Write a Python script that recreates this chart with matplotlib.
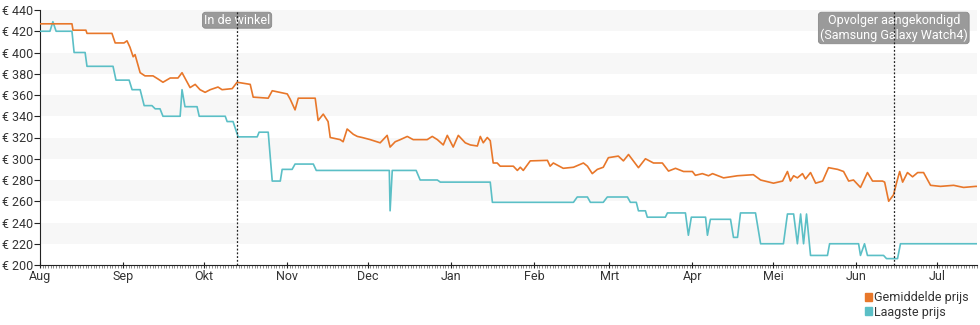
import pandas as pd
import matplotlib.pyplot as plt
import matplotlib.dates as mdates
from matplotlib.patches import Patch

plt.rcParams["font.family"] = ["Roboto", "DejaVu Sans"]

start = pd.Timestamp("2020-08-01")
end = pd.Timestamp("2021-07-16")

# gemiddelde prijs: dagen sinds 1 aug 2020 en prijs in euro
gem_dag = [0, 11.9, 12.3, 17.1, 17.5, 26.8, 28, 31.3, 32.4, 33.5, 34.7, 35.4, 37.3, 39.1,
           42.1, 44, 45.8, 48.5, 51.4, 52.9, 55.9, 57.8, 59.6, 61.5, 63.4, 66.3, 67.8,
           71.6, 73.4, 78.3, 79.4, 85, 86.5, 92.1, 93.2, 95, 96.2, 102.5, 103.6, 105.5,
           107.3, 108.1, 111.8, 112.9, 114.4, 116.7, 118.2, 120, 123, 126.7, 129.3,
           130.4, 132.3, 134.2, 136.8, 139, 144.2, 146.1, 148, 150.2, 151.7, 153.9,
           155.8, 158.4, 160.3, 162.9, 164, 165.1, 166.6, 167.7, 168.8, 170.3, 171.4,
           176.3, 177.8, 178.9, 180, 182.6, 189, 190, 191.2, 194.9, 198.7, 202.4, 203.9,
           205.7, 207.6, 209.8, 211.7, 215.4, 217.3, 219.2, 222.9, 225.5, 228.5, 231.8,
           234.1, 236.7, 239.7, 243, 244.1, 246.7, 249, 250.5, 254.6, 259.8, 265.7,
           268.4, 273.2, 276.6, 278.4, 279.5, 280.7, 282.1, 284, 285.1, 287, 288.9,
           291.5, 293.7, 297.1, 299.3, 301.2, 303, 305.6, 308.2, 310.1, 313.8, 314.6,
           316.1, 317.9, 319, 320.2, 321.3, 323.1, 325, 326.9, 329.1, 331.7, 335.4,
           340.3, 344, 348.5, 349.2]
gem_prijs = [427, 427, 421, 421, 418, 418, 409, 409, 411, 405, 396, 398, 381, 378,
             378, 375, 372, 376, 376, 381, 367, 370, 365, 362.5, 365, 367.5, 365,
             366, 372, 370, 358, 357, 364, 361, 356, 346, 357, 357, 336, 342,
             335, 320, 318, 316, 328, 323, 321, 320, 318, 315, 322,
             311, 316, 318, 321, 318, 318, 321, 318, 313, 322, 311,
             322, 315, 313, 312, 321, 315, 320, 317, 296, 296, 293,
             293, 289, 292, 289, 298, 298.5, 293, 296, 291, 292, 296, 293,
             286, 290, 292, 301, 302.5, 298, 304, 291.6, 300, 296, 296,
             288.4, 291, 288, 288, 284.4, 286, 284, 286, 282, 284, 285,
             280, 277, 279, 288, 279, 284, 282, 286, 281, 287, 277,
             279, 291.6, 290, 288, 279, 280, 273, 287, 279, 279, 278,
             260, 266, 277, 288, 278, 287, 283, 287, 287, 275, 274,
             275, 273, 274, 274]

# laagste prijs
laag_dag = [0, 3.7, 4.8, 6, 11.9, 12.7, 16.8, 17.5, 27.2, 28.3, 33.2, 34.3, 37.3, 38.8,
            41.7, 42.9, 44.7, 45.8, 52.2, 52.9, 54, 58.5, 59.3, 69, 69.7, 71.9, 73.8,
            80.9, 81.6, 85, 86.5, 89.5, 90.2, 93.9, 95, 101.8, 102.9, 130.1, 130.4,
            131.2, 140.1, 141.6, 148, 149.1, 167.7, 168.5, 198.7, 200.1, 203.9, 205,
            209.8, 211.3, 218.8, 219.9, 222.1, 222.9, 225.5, 226.2, 232.9, 233.7, 240.4,
            241.5, 242.6, 247.9, 248.6, 249.7, 257.2, 258.3, 259.8, 260.9, 266.5, 268.4,
            276.9, 278.4, 280.7, 282.1, 283.3, 284.4, 285.5, 287, 293.3, 294.1, 304.9,
            305.6, 307.1, 308.2, 314.2, 315.3, 319.4, 320.5, 349.2]
laag_prijs = [420, 420, 429, 420, 420, 400, 400, 387, 387, 374, 374, 365, 365, 350,
              350, 347, 347, 340, 340, 365, 349, 349, 340, 340, 335, 335, 320.6,
              320.6, 325, 325, 279, 279, 290, 290, 295, 295, 289, 289, 251,
              289, 289, 280, 280, 278, 278, 259, 259, 264, 264, 259,
              259, 264, 264, 259, 259, 251, 251, 245, 245, 249, 249,
              228, 245, 245, 228, 243, 243, 226, 226, 249, 249, 220,
              220, 248, 248, 220, 248, 220, 248, 209, 209, 220, 220,
              209, 220, 209, 209, 206, 206, 220, 220]

gebeurtenis_dag = [73.4, 318]
gebeurtenis_tekst = ["In de winkel", "Opvolger aangekondigd\n(Samsung Galaxy Watch4)"]

oranje = "#e8772a"
turkoois = "#5bbfc6"

gem_x = [start + pd.Timedelta(days=d) for d in gem_dag]
laag_x = [start + pd.Timedelta(days=d) for d in laag_dag]

fig = plt.figure(figsize=(9.8, 3.25), dpi=100)
ax = fig.add_axes([40 / 980, 60 / 325, 937 / 980, 255 / 325])

# grijze banden om de 40 euro
for lo in range(220, 440, 40):
    ax.axhspan(lo, lo + 20, color="#f7f7f7", lw=0, zorder=0)

ax.plot(laag_x, laag_prijs, color=turkoois, lw=1.2, zorder=3)
ax.plot(gem_x, gem_prijs, color=oranje, lw=1.2, zorder=3)

for d, t in zip(gebeurtenis_dag, gebeurtenis_tekst):
    x = start + pd.Timedelta(days=d)
    ax.axvline(x, color="#222222", lw=0.9, ls=(0, (1.5, 1.5)), zorder=5)
    ax.text(x, 436.5, t, ha="center", va="top", color="white", fontsize=9,
            linespacing=1.2, zorder=4,
            bbox=dict(boxstyle="round,pad=0.12,rounding_size=0.25",
                      fc="#9a9a9a", ec="#8a8a8a", lw=0.6))

ax.set_xlim(start, end)
ax.set_ylim(200, 440)
ax.set_yticks(range(200, 441, 20))
ax.set_yticklabels([f"€ {v}" for v in range(200, 441, 20)])

maanden = ["Aug", "Sep", "Okt", "Nov", "Dec", "Jan", "Feb", "Mrt", "Apr", "Mei", "Jun", "Jul"]
ticks = pd.date_range("2020-08-01", "2021-07-01", freq="MS")
ax.set_xticks(ticks)
ax.set_xticklabels(maanden)
ax.xaxis.set_minor_locator(mdates.DayLocator())

for s in ["top", "right"]:
    ax.spines[s].set_visible(False)
ax.spines["left"].set_color("#222222")
ax.spines["bottom"].set_color("#222222")
ax.tick_params(axis="both", labelsize=9, colors="#222222", labelcolor="#333333")
ax.tick_params(axis="x", which="major", direction="inout", length=5, pad=1)
ax.tick_params(axis="x", which="minor", direction="out", length=2, width=0.6, color="#777777")
ax.tick_params(axis="y", direction="out", length=4, pad=1)

handles = [Patch(color=oranje, label="Gemiddelde prijs"),
           Patch(color=turkoois, label="Laagste prijs")]
fig.legend(handles=handles, loc="lower right", bbox_to_anchor=(0.995, 0.0), frameon=False,
           fontsize=9, handlelength=0.6, handleheight=0.6, handletextpad=0.15,
           labelspacing=0.1, borderpad=0.3, borderaxespad=0.2,
           alignment="left", labelcolor="#333333")

fig.savefig("out.png", dpi=100)
